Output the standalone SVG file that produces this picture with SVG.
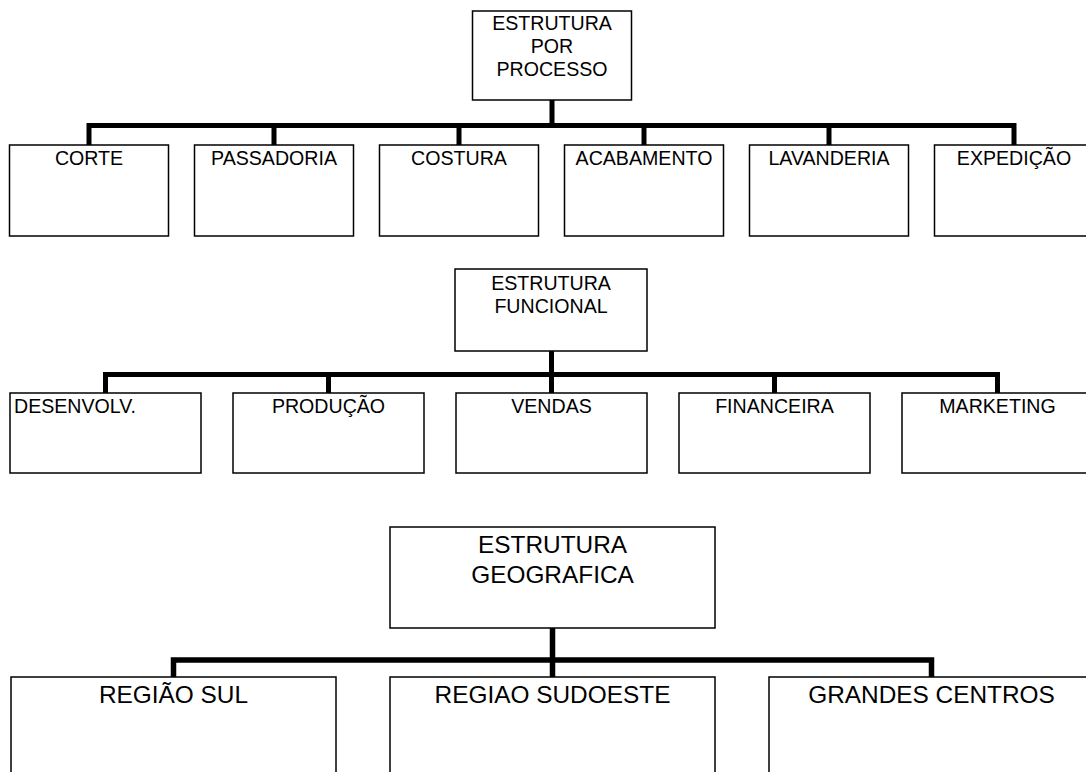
<svg xmlns="http://www.w3.org/2000/svg" width="1086" height="772" viewBox="0 0 1086 772">
<style>
.box{fill:#fff;stroke:#000;stroke-width:1.5}
.con{fill:none;stroke:#000;stroke-width:5;stroke-linejoin:miter;stroke-linecap:butt}
.t{font-family:"Liberation Sans",Arial,sans-serif;font-size:19.6px;fill:#000;text-anchor:middle}
.tl{font-family:"Liberation Sans",Arial,sans-serif;font-size:19.6px;fill:#000;text-anchor:start}
.T{font-family:"Liberation Sans",Arial,sans-serif;font-size:24.4px;fill:#000;text-anchor:middle}
</style>
<rect width="1086" height="772" fill="#fff"/>
<g id="connectors">
<path class="con" d="M552,100 V125.5 M89,145 V125.5 H1014 V145 M274,125.5 V145 M459,125.5 V145 M644,125.5 V145 M829,125.5 V145"/>
<path class="con" d="M551.5,351 V393 M105.5,393 V374.5 H997.5 V393 M328.5,374.5 V393 M774.5,374.5 V393"/>
<path class="con" style="stroke-width:5.5" d="M552.5,628 V677 M173.5,677 V660 H931.5 V677"/>
</g>
<g id="proc-root"><rect class="box" x="472.5" y="11" width="159" height="89"/><text class="t" x="552" y="30">ESTRUTURA</text><text class="t" x="552" y="53">POR</text><text class="t" x="552" y="76">PROCESSO</text></g>
<g id="corte"><rect class="box" x="9.5" y="145" width="159" height="91"/><text class="t" x="89" y="165">CORTE</text></g>
<g id="passadoria"><rect class="box" x="194.5" y="145" width="159" height="91"/><text class="t" x="274" y="165">PASSADORIA</text></g>
<g id="costura"><rect class="box" x="379.5" y="145" width="159" height="91"/><text class="t" x="459" y="165">COSTURA</text></g>
<g id="acabamento"><rect class="box" x="564.5" y="145" width="159" height="91"/><text class="t" x="644" y="165">ACABAMENTO</text></g>
<g id="lavanderia"><rect class="box" x="749.5" y="145" width="159" height="91"/><text class="t" x="829" y="165">LAVANDERIA</text></g>
<g id="expedicao"><rect class="box" x="934.5" y="145" width="159" height="91"/><text class="t" x="1014" y="165">EXPEDIÇÃO</text></g>
<g id="func-root"><rect class="box" x="455" y="269" width="192" height="82"/><text class="t" x="551" y="290">ESTRUTURA</text><text class="t" x="551" y="313">FUNCIONAL</text></g>
<g id="desenvolv"><rect class="box" x="10" y="393" width="191" height="80"/><text class="tl" x="14" y="413">DESENVOLV.</text></g>
<g id="producao"><rect class="box" x="233" y="393" width="191" height="80"/><text class="t" x="328.5" y="413">PRODUÇÃO</text></g>
<g id="vendas"><rect class="box" x="456" y="393" width="191" height="80"/><text class="t" x="551.5" y="413">VENDAS</text></g>
<g id="financeira"><rect class="box" x="679" y="393" width="191" height="80"/><text class="t" x="774.5" y="413">FINANCEIRA</text></g>
<g id="marketing"><rect class="box" x="902" y="393" width="191" height="80"/><text class="t" x="997.5" y="413">MARKETING</text></g>
<g id="geo-root"><rect class="box" x="390" y="527" width="325" height="101"/><text class="T" x="552.5" y="553">ESTRUTURA</text><text class="T" x="552.5" y="583">GEOGRAFICA</text></g>
<g id="regiao-sul"><rect class="box" x="11" y="677" width="325" height="120"/><text class="T" x="173.5" y="703">REGIÃO SUL</text></g>
<g id="regiao-sudoeste"><rect class="box" x="390" y="677" width="325" height="120"/><text class="T" x="552.5" y="703">REGIAO SUDOESTE</text></g>
<g id="grandes-centros"><rect class="box" x="769" y="677" width="325" height="120"/><text class="T" x="931.5" y="703">GRANDES CENTROS</text></g>
</svg>
